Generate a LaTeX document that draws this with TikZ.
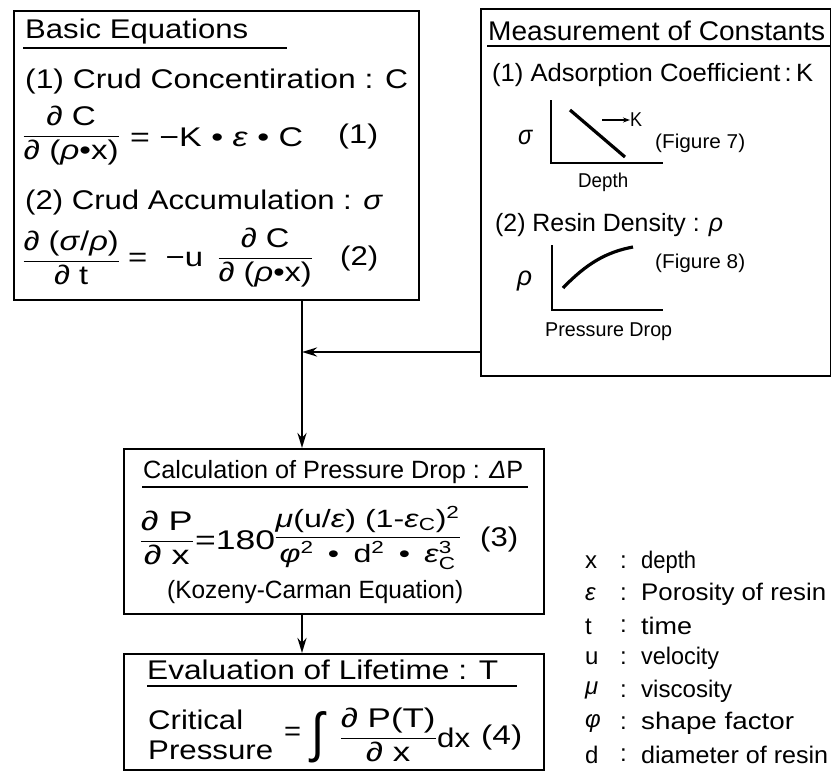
\documentclass[tikz,border=0pt]{standalone}
\usepackage{fontspec}
\usepackage{amsmath}
\usepackage{graphicx}
\setmainfont{Liberation Sans}
\usetikzlibrary{arrows.meta}
\newcommand\fsz[1]{\fontsize{#1}{#1}\selectfont}
\newcommand\gk[1]{\textit{#1}}
\newcommand\rw[2]{\resizebox{#1pt}{\height}{#2}}
\newcommand\fr[2]{$\displaystyle\frac{\text{#1}}{\text{#2}}$}
\tikzset{
  box/.style={draw, line width=2pt, inner sep=0pt, anchor=north west},
  t27/.style={anchor=west, inner sep=0pt, font=\fsz{27}},
  t25/.style={anchor=west, inner sep=0pt, font=\fsz{25}},
  t24/.style={anchor=west, inner sep=0pt, font=\fsz{24}},
  t20/.style={anchor=west, inner sep=0pt, font=\fsz{20}},
  uline/.style={line width=1.4pt},
  axis/.style={line width=2pt},
  crv/.style={line width=3.2pt},
  arr/.style={line width=2.6pt, -{Stealth[length=15pt, width=9pt]}},
}
\begin{document}
\begin{tikzpicture}[x=1pt,y=-1pt]
\useasboundingbox (0,0) rectangle (831,772);
% boxes
\node[box, minimum width=405pt, minimum height=289pt] (basic) at (13,10) {};
\node[box, minimum width=350pt, minimum height=367pt] (meas) at (480,8) {};
\node[box, minimum width=420pt, minimum height=165pt] (calc) at (123,448) {};
\node[box, minimum width=420pt, minimum height=116pt] (eval) at (123,653) {};
% ---- basic equations
\node[t27] (bt) at (25,32) {\rw{223}{Basic Equations}};
\draw[uline] (23,48) -- (287,48);
\node[t27] (b1) at (25,82) {\rw{383}{(1) Crud Concentiration : C}};
\node[t27] (e1f) at (22,136) {\rw{98}{\fr{∂ C}{∂ (\gk{ρ}•x)}}};
\node[t27] (e1r) at (130,137) {\rw{173}{= −K • \gk{ε} • C}};
\node[t27] (e1n) at (338,137) {\rw{40}{(1)}};
\node[t27] (b2) at (25,203) {\rw{358}{(2) Crud Accumulation : \gk{σ}}};
\node[t27] (e2f) at (22,258) {\rw{98}{\fr{∂ (\gk{σ}/\gk{ρ})}{∂ t}}};
\node[t27] (e2m) at (128,259) {\rw{75}{= \ −u}};
\node[t27] (e2g) at (217,258) {\rw{96}{\fr{∂ C}{∂ (\gk{ρ}•x)}}};
\node[t27] (e2n) at (340,259) {\rw{38}{(2)}};
% ---- measurement of constants
\node[t27] (mt) at (488,31) {\rw{337}{Measurement of Constants}};
\draw[uline] (487,46) -- (830,46);
\node[t25] (m1) at (492,75) {\rw{321}{(1) Adsorption Coefficient\,:\,K}};
\node[t27] (s1) at (518,137) {\rw{15}{\gk{σ}}};
\draw[axis] (551,100) -- (551,163) -- (663,163);
\draw[crv] (570,110) -- (625,157);
\coordinate (ka) at (602,120);
\node[t20] (kk) at (630,120) {\rw{12}{K}};
\draw[line width=1.2pt, -{Stealth[length=7pt,width=5pt]}] (ka) -- (kk.west |- ka);
\node[t20] (f7) at (655,143) {\rw{90}{(Figure 7)}};
\node[t20] (dp) at (578,182) {\rw{50}{Depth}};
\node[t25] (m2) at (495,225) {\rw{228}{(2) Resin Density : \gk{ρ}}};
\node[t27] (r2) at (517,281) {\rw{15}{\gk{ρ}}};
\draw[axis] (552,245) -- (552,310) -- (663,310);
\draw[crv] (563,288) .. controls (586,264) and (606,252) .. (633,247);
\node[t20] (f8) at (655,263) {\rw{90}{(Figure 8)}};
\node[t20] (pd) at (545,332) {\rw{127}{Pressure Drop}};
% ---- calculation of pressure drop
\node[t25] (ct) at (143,472) {\rw{380}{Calculation of Pressure Drop : \gk{Δ}P}};
\draw[uline] (142,487) -- (528,487);
\node[t27] (e3f) at (139,538) {\rw{55}{\fr{∂ P}{∂ x}}};
\node[t27] (e3m) at (195,540) {\rw{80}{=180}};
\node[t25] (e3g) at (274,538) {\rw{187}{$\displaystyle\frac{\text{\gk{μ}(u/\gk{ε}) (1-\gk{ε}$_{\text{C}}$)$^{\text{2}}$}}{\text{\gk{φ}$^{\text{2}}$ \,•\, d$^{\text{2}}$ \,•\, \gk{ε}$_{\text{C}}^{\text{3}}$}}$}};
\node[t27] (e3n) at (480,540) {\rw{38}{(3)}};
\node[t25] (kc) at (167,592) {\rw{296}{(Kozeny-Carman Equation)}};
% ---- evaluation of lifetime
\node[t27] (et) at (147,670) {\rw{351}{Evaluation of Lifetime : T}};
\draw[uline] (147,686) -- (517,686);
\node[t27] (cr1) at (148,720) {\rw{95}{Critical}};
\node[t27] (cr2) at (148,750) {\rw{125}{Pressure}};
\node[t27] (e4m) at (284,734) {\rw{17}{=}};
\node[inner sep=0pt, font=\fsz{27}] (e4i) at (318,737) {\resizebox{13pt}{40pt}{∫}};
\node[t27] (e4f) at (339,735) {\rw{98}{\fr{∂ P(T)}{∂ x}}};
\node[t27] (e4d) at (437,738) {\rw{33}{dx}};
\node[t27] (e4n) at (481,738) {\rw{41}{(4)}};
% ---- legend
\foreach \i/\s/\w/\txt in {0/x/55/depth, 1/\gk{ε}/185/Porosity of resin, 2/t/51/time, 3/u/78/velocity, 4/\gk{μ}/91/viscosity, 5/\gk{φ}/153/shape factor, 6/d/187/diameter of resin}{
  \node[t24] (ls\i) at (585,{562+32.2*\i}) {\s};
  \node[t24] (lc\i) at (620,{562+32.2*\i}) {:};
  \node[t24] (lt\i) at (641,{562+32.2*\i}) {\rw{\w}{\txt}};
}
% ---- connectors
\coordinate (j) at (302,352);
\draw[line width=2.6pt] (j |- basic.south) -- (j);
\draw[arr] (meas.west |- j) -- (j);
\draw[arr] (j) -- (j |- calc.north);
\draw[arr] (j |- calc.south) -- (j |- eval.north);
\end{tikzpicture}
\end{document}
